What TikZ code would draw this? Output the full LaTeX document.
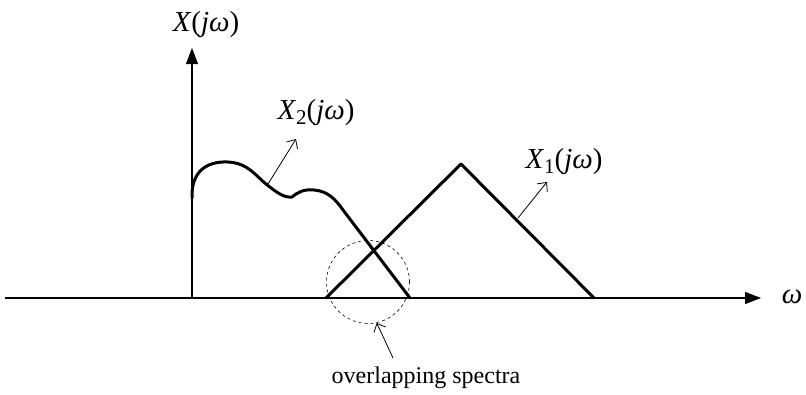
\documentclass[tikz,border=0pt]{standalone}
\usepackage{fontspec}
\setmainfont{Liberation Serif}
\usetikzlibrary{arrows.meta, calc}

\newcommand{\lowsub}[1]{\raisebox{-0.35ex}{\fontsize{21}{21}\selectfont #1}}

\tikzset{
  axis/.style={line width=1.1pt, -{Triangle[length=16pt,width=12pt]}},
  spec/.style={line width=3pt, line join=round, line cap=round},
  pointer/.style={line width=0.8pt, -{Straight Barb[length=7pt,width=13pt]}},
  lab/.style={font=\fontsize{29}{31}\selectfont, inner sep=0pt}
}

\begin{document}
\begin{tikzpicture}[x=1pt, y=-1pt]
\useasboundingbox (0,0) rectangle (806,394);
% axes
\coordinate (O) at (192,298);
\coordinate (xl) at (5,298);
\coordinate (xr) at (761,298);
\coordinate (yt) at (192,48);
\draw[axis] (xl) -- (xr);
\draw[axis] (O) -- (yt);
\node[lab] (w) at (792,297) {\textit{ω}};
\node[lab] (Xj) at (206,25) {\textit{X}(\textit{jω})};
% X2 spectrum
\draw[spec] (192,198) .. controls (191,172) and (206,161) .. (228,162)
  .. controls (248,163) and (256,176) .. (266,184)
  .. controls (276,192) and (284,198) .. (292,197)
  .. controls (298,192) and (304,189) .. (314,190)
  .. controls (328,191) and (336,200) .. (343,210) -- (410,298);
% X1 spectrum
\coordinate (a1) at (326,298);
\coordinate (a2) at (461,164);
\coordinate (a3) at (594,298);
\draw[spec] (a1) -- (a2) -- (a3);
% labels with pointers
\node[lab] (X2) at (316,113) {\textit{X}\lowsub{2}(\textit{jω})};
\coordinate (p2) at (268,184);
\coordinate (t2) at (296,139);
\draw[pointer] (p2) -- (t2);
\node[lab] (X1) at (564,162) {\textit{X}\lowsub{1}(\textit{jω})};
\coordinate (p1) at (518,218);
\coordinate (t1) at (547,182);
\draw[pointer] (p1) -- (t1);
% overlap
\node (ovl) [circle, draw, dashed, line width=0.6pt, minimum size=83pt, inner sep=0pt] at (368,282) {};
\node[lab, font=\fontsize{24}{26}\selectfont] (ovtext) at (426,378) {overlapping spectra};
\coordinate (p3) at (393,358);
\draw[pointer] (p3) -- (ovl.-78);
\end{tikzpicture}
\end{document}
